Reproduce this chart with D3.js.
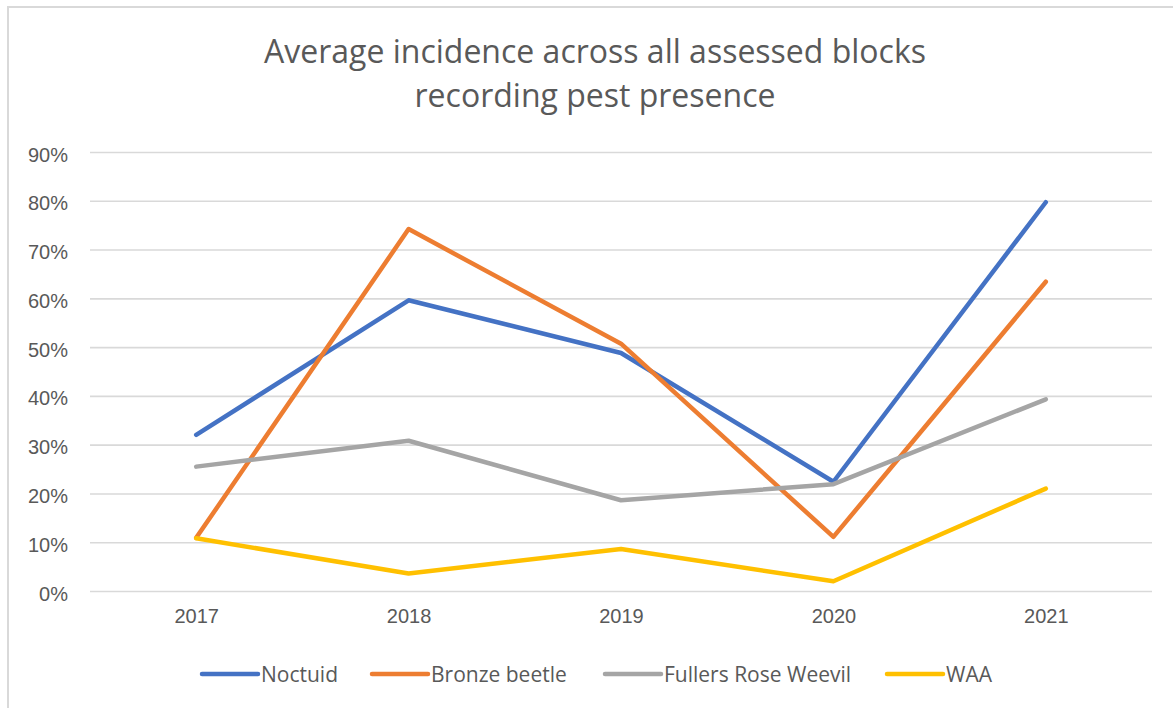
<!DOCTYPE html>
<html>
<head>
<meta charset="utf-8">
<script src="https://cdn.jsdelivr.net/npm/d3@7"></script>
<style>
  body { margin: 0; background: #fff; }
  svg { display: block; font-family: "Open Sans", sans-serif; }
</style>
</head>
<body>
<div id="chart"></div>
<script>
// data
const years = ["2017", "2018", "2019", "2020", "2021"]
const seriesNames = ["Noctuid", "Bronze beetle", "Fullers Rose Weevil", "WAA"]
const noctuid = [0.32, 0.596, 0.488, 0.224, 0.797]
const bronzeBeetle = [0.109, 0.742, 0.507, 0.111, 0.634]
const fullersRoseWeevil = [0.255, 0.308, 0.186, 0.219, 0.393]
const waa = [0.108, 0.036, 0.086, 0.02, 0.21]
const yTicks = [0, 0.1, 0.2, 0.3, 0.4, 0.5, 0.6, 0.7, 0.8, 0.9]
const colors = ["#4472C4", "#ED7D31", "#A5A5A5", "#FFC000"]

const series = [noctuid, bronzeBeetle, fullersRoseWeevil, waa].map((values, i) => ({
  name: seriesNames[i],
  color: colors[i],
  values: values.map((v, j) => ({ year: years[j], value: v }))
}))

const width = 1173
const height = 708
const plot = { left: 90, right: 1152, top: 152, bottom: 591 }
const textColor = "#595959"
const gridColor = "#d9d9d9"

const svg = d3.select("#chart").append("svg")
  .attr("width", width)
  .attr("height", height)

// chart frame (only left and top edges are visible in the reference)
svg.append("rect")
  .attr("x", 8).attr("y", 7)
  .attr("width", width + 20).attr("height", height + 20)
  .attr("fill", "#fff")
  .attr("stroke", gridColor)
  .attr("stroke-width", 2)

// title
const title = svg.append("text")
  .attr("text-anchor", "middle")
  .attr("fill", textColor)
  .style("font-size", "32px")
title.append("tspan").attr("x", 595).attr("y", 63).text("Average incidence across all assessed blocks")
title.append("tspan").attr("x", 595).attr("y", 107).text("recording pest presence")

// scales
const xScale = d3.scalePoint()
  .domain(years)
  .range([plot.left, plot.right])
  .padding(0.5)

const yScale = d3.scaleLinear()
  .domain([0, 0.9])
  .range([plot.bottom, plot.top])

// y axis with gridlines
const yAxis = svg.append("g")
  .attr("transform", `translate(${plot.left},0)`)
  .call(d3.axisLeft(yScale)
    .tickValues(yTicks)
    .tickFormat(d3.format(".0%"))
    .tickSize(-(plot.right - plot.left))
    .tickPadding(22))
yAxis.select(".domain").remove()
yAxis.selectAll(".tick line")
  .attr("stroke", gridColor)
  .attr("stroke-width", 1.6)
yAxis.selectAll(".tick text")
  .attr("fill", textColor)
  .attr("dy", "0.45em")
  .style("font-size", "20px")

// x axis labels
const xAxis = svg.append("g")
  .attr("transform", `translate(0,${plot.bottom})`)
  .call(d3.axisBottom(xScale).tickSize(0).tickPadding(18))
xAxis.select(".domain").remove()
xAxis.selectAll(".tick text")
  .attr("fill", textColor)
  .style("font-size", "20px")

// lines
const line = d3.line()
  .x(d => xScale(d.year))
  .y(d => yScale(d.value))

svg.append("g")
  .selectAll("path")
  .data(series)
  .join("path")
    .attr("d", d => line(d.values))
    .attr("fill", "none")
    .attr("stroke", d => d.color)
    .attr("stroke-width", 4.5)
    .attr("stroke-linejoin", "round")
    .attr("stroke-linecap", "round")

// legend
const legendX = [202, 372, 605, 887]
const legend = svg.append("g")
  .selectAll("g")
  .data(series)
  .join("g")
    .attr("transform", (d, i) => `translate(${legendX[i]},674)`)

legend.append("line")
  .attr("x1", 0).attr("x2", 56)
  .attr("stroke", d => d.color)
  .attr("stroke-width", 4.5)
  .attr("stroke-linecap", "round")

legend.append("text")
  .attr("x", 59)
  .attr("y", 8)
  .attr("fill", textColor)
  .style("font-size", "21px")
  .text(d => d.name)
</script>
</body>
</html>
